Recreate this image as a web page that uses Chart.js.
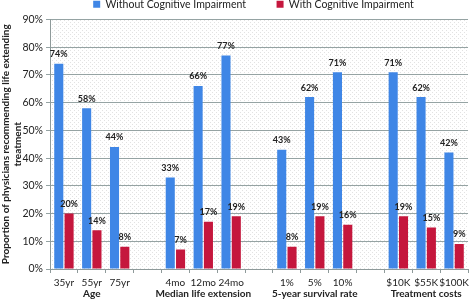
<!DOCTYPE html>
<html>
<head>
<meta charset="utf-8">
<script src="https://cdn.jsdelivr.net/npm/chart.js@4"></script>
<style>
  html, body { margin: 0; padding: 0; background: #fff; }
  #wrap { width: 473px; height: 300px; }
</style>
</head>
<body>
<div id="wrap"><canvas id="chart"></canvas></div>
<script>
// categories (empty strings are the gaps between groups)
const categories = ['35yr', '55yr', '75yr', '', '4mo', '12mo', '24mo', '', '1%', '5%', '10%', '', '$10K', '$55K', '$100K'];
const groupLabels = ['', 'Age', '', '', '', 'Median life extension', '', '', '', '5-year survival rate', '', '', '', 'Treatment costs', ''];
const withoutCI = [74, 58, 44, null, 33, 66, 77, null, 43, 62, 71, null, 71, 62, 42];
const withCI = [20, 14, 8, null, 7, 17, 19, null, 8, 19, 16, null, 19, 15, 9];
const yTicks = [0, 10, 20, 30, 40, 50, 60, 70, 80, 90];

const FONT = 'Lato, sans-serif';

// dotted plot background like the original
const dotBg = {
    id: 'dotBg',
    beforeDraw(chart) {
        const { ctx, chartArea: a } = chart;
        const p = document.createElement('canvas');
        p.width = 4; p.height = 4;
        const pc = p.getContext('2d');
        pc.fillStyle = '#e2e2e2';
        pc.fillRect(0, 0, 1, 1);
        pc.fillRect(2, 2, 1, 1);
        ctx.save();
        ctx.fillStyle = ctx.createPattern(p, 'repeat');
        ctx.fillRect(a.left, a.top, a.right - a.left, a.bottom - a.top);
        ctx.restore();
    }
};

// percent labels above each bar
const barLabels = {
    id: 'barLabels',
    afterDatasetsDraw(chart) {
        const ctx = chart.ctx;
        ctx.save();
        ctx.font = 'bold 9px ' + FONT;
        ctx.fillStyle = '#222';
        ctx.textAlign = 'center';
        ctx.textBaseline = 'bottom';
        chart.data.datasets.forEach((ds, i) => {
            chart.getDatasetMeta(i).data.forEach((bar, j) => {
                if (ds.data[j] == null) return;
                ctx.fillText(ds.data[j] + '%', bar.x, bar.y - 5);
            });
        });
        ctx.restore();
    }
};

// nudge the legend a little to the right
const legendShift = {
    id: 'legendShift',
    afterLayout(chart) {
        chart.legend.left += 34;
    }
};

new Chart(document.getElementById('chart'), {
    type: 'bar',
    plugins: [dotBg, barLabels, legendShift],
    data: {
        labels: categories,
        datasets: [
            {
                label: 'Without Cognitive Impairment',
                data: withoutCI,
                backgroundColor: '#3f86e6',
                categoryPercentage: 0.74,
                barPercentage: 0.88
            },
            {
                label: 'With Cognitive Impairment',
                data: withCI,
                backgroundColor: '#c5173d',
                categoryPercentage: 0.74,
                barPercentage: 0.88
            }
        ]
    },
    options: {
        responsive: true,
        maintainAspectRatio: false,
        animation: false,
        layout: { padding: { top: -2 } },
        plugins: {
            legend: {
                position: 'top',
                labels: {
                    boxWidth: 7,
                    boxHeight: 7,
                    padding: 1,
                    color: '#222',
                    font: { family: FONT, size: 10.5 },
                    generateLabels(chart) {
                        const items = Chart.defaults.plugins.legend.labels.generateLabels(chart);
                        // wider gap between the two entries, as in the original
                        items[0].text += '           ';
                        return items;
                    }
                }
            },
            tooltip: { enabled: false }
        },
        scales: {
            x: {
                position: 'bottom',
                grid: { drawOnChartArea: false, drawTicks: true, tickLength: 4, color: '#8e9a9a' },
                border: { color: '#8e9a9a' },
                ticks: { color: '#222', font: { family: FONT, size: 10 }, padding: 4, maxRotation: 0, autoSkip: false },
                afterFit(scale) { scale.height = 19; }
            },
            x2: {
                position: 'bottom',
                type: 'category',
                labels: groupLabels,
                grid: { display: false, drawTicks: false },
                border: { display: false },
                ticks: { color: '#222', font: { family: FONT, size: 10, weight: 'bold' }, padding: 0, maxRotation: 0, autoSkip: false },
                afterFit(scale) { scale.height = 12; }
            },
            y: {
                min: 0,
                max: 90,
                afterBuildTicks(scale) { scale.ticks = yTicks.map(v => ({ value: v })); },
                grid: { color: '#95a3a3', tickLength: 4 },
                border: { color: '#8e9a9a' },
                ticks: {
                    color: '#222',
                    font: { family: FONT, size: 10.5 },
                    padding: 3,
                    callback: v => v + '%'
                },
                title: {
                    display: true,
                    text: ['Proportion of physicians recommending life extending', 'treatment'],
                    color: '#222',
                    font: { family: FONT, size: 10, weight: 'bold' },
                    padding: 0
                },
                afterFit(scale) { scale.width = 50; }
            }
        }
    }
});
</script>
</body>
</html>
